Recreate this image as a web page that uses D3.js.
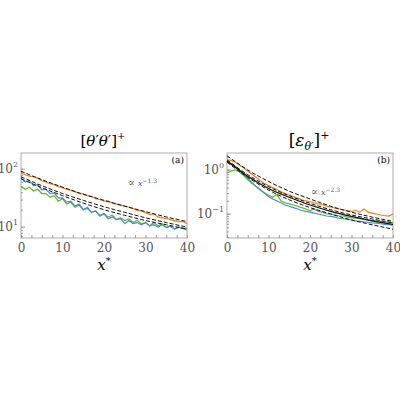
<!DOCTYPE html>
<html lang="en">
<head>
<meta charset="UTF-8">
<script src="https://d3js.org/d3.v7.min.js"></script>
<style>body{margin:0;background:#fff}</style>
</head>
<body>
<svg id="svg" width="400" height="400"></svg>
<script>
const xs=d3.range(0,41);
const xsDash=[0,5,10,15,20,25,30,35,40];
const xTicks=[0,10,20,30,40];
// panel (a)
const orangeA=[85,80,76,74,70,63,60,56,54,50,48,45,43,41,38,37,35,34,31,30,28,28,26,25,24,23,22,21,19.5,19,18,16.5,17,15,14.5,14,13.5,13,12.5,12.5,11.5];
const blueA=[70,60,64,52,54,44,45,38,39,32,32,27,28,23,25,20,22,18,19,15.5,17,14,15,13.5,14,11.5,13,11.5,12,11,12,10.5,11,10,11,9.8,10.5,9.3,10,9.5,9.5];
const greenA=[50,45,49,42,45,38,38,33,35,28,31,25,27,22,24,20,21,18,19,16,17,15,16,13.5,14.5,13,14,12,13,11.5,12,10.5,12,10.5,11.5,9.8,10.5,9.3,10,9.5,9];
const dashA=[[92,66,49,37,29,23,18.5,15,12.5],[74,52,38,29,22.5,18,14.5,12,10],[68,48,35,26,20,16,13,11,9.2]];
// panel (b)
const orangeB=[1.7,1.65,1.5,1.3,1.12,0.95,0.8,0.68,0.58,0.5,0.44,0.4,0.36,0.32,0.29,0.27,0.25,0.23,0.21,0.2,0.19,0.18,0.17,0.165,0.15,0.145,0.135,0.13,0.125,0.12,0.115,0.12,0.11,0.13,0.11,0.105,0.1,0.095,0.092,0.09,0.1];
const blueB=[1.5,1.4,1.2,1.0,0.8,0.65,0.52,0.42,0.35,0.3,0.25,0.22,0.2,0.18,0.16,0.15,0.14,0.13,0.12,0.115,0.11,0.105,0.1,0.095,0.09,0.088,0.085,0.08,0.078,0.075,0.073,0.07,0.068,0.066,0.065,0.063,0.062,0.06,0.058,0.057,0.056];
const greenB=[0.85,0.95,1.0,0.9,0.75,0.6,0.5,0.42,0.36,0.3,0.27,0.24,0.28,0.2,0.18,0.17,0.16,0.15,0.14,0.13,0.12,0.13,0.115,0.11,0.1,0.1,0.095,0.09,0.09,0.085,0.082,0.08,0.078,0.075,0.073,0.07,0.07,0.068,0.066,0.065,0.064];
const dashB=[[2.1,1.0,0.55,0.33,0.22,0.15,0.11,0.085,0.068],[1.7,0.78,0.42,0.26,0.175,0.125,0.095,0.077,0.063],[1.5,0.68,0.35,0.21,0.14,0.1,0.073,0.057,0.045]];
const solidB=[1.6,0.72,0.38,0.24,0.16,0.115,0.088,0.07,0.058];

const colors={orange:"#f07f1e",blue:"#4a8bd0",green:"#5cb531"};
const svg=d3.select("#svg");
const serif="'DejaVu Serif','Liberation Serif',serif";

function panel(o){
  const x=d3.scaleLinear().domain([0,40]).range([o.x0,o.x1]);
  const y=d3.scaleLog().domain(o.ydom).range([238,153]);
  const g=svg.append("g");
  g.append("rect").attr("x",o.x0).attr("y",153).attr("width",o.x1-o.x0).attr("height",85)
    .attr("fill","none").attr("stroke","#999").attr("stroke-width",0.8);
  g.append("g").attr("transform","translate(0,238)")
    .call(d3.axisBottom(x).tickValues(d3.range(0,41,2.5)).tickSizeInner(-3).tickSizeOuter(0).tickFormat(""))
    .call(a=>a.select(".domain").remove()).call(a=>a.selectAll("line").attr("stroke","#999"));
  g.append("g").attr("transform","translate(0,238)")
    .call(d3.axisBottom(x).tickValues(xTicks).tickSize(0).tickPadding(5))
    .call(a=>a.select(".domain").remove())
    .call(a=>a.selectAll("text").attr("font-family",serif).attr("font-size",12).attr("fill","#555"));
  const minor=[];
  for(let e=-3;e<3;e++)for(let k=1;k<10;k++){const v=k*Math.pow(10,e);if(v>=o.ydom[0]&&v<=o.ydom[1])minor.push(v);}
  g.append("g").attr("transform",`translate(${o.x0},0)`)
    .call(d3.axisLeft(y).tickValues(minor).tickSizeInner(-2).tickSizeOuter(0).tickFormat(""))
    .call(a=>a.select(".domain").remove()).call(a=>a.selectAll("line").attr("stroke","#999"));
  o.major.forEach(m=>{
    g.append("line").attr("x1",o.x0).attr("x2",o.x0+4).attr("y1",y(m[0])).attr("y2",y(m[0])).attr("stroke","#999");
    const t=g.append("text").attr("x",o.x0-3).attr("y",y(m[0])+4).attr("text-anchor","end")
      .attr("font-family",serif).attr("font-size",12).attr("fill","#555").text("10");
    t.append("tspan").attr("dy",-6).attr("font-size",8).text(m[1]);
  });
  const line=d3.line().x((d,i)=>x(xs[i])).y(d=>y(d));
  const lineD=d3.line().curve(d3.curveMonotoneX).x((d,i)=>x(xsDash[i])).y(d=>y(d));
  [[o.green,colors.green],[o.blue,colors.blue],[o.orange,colors.orange]].forEach(s=>{
    g.append("path").attr("d",line(s[0])).attr("fill","none").attr("stroke",s[1]).attr("stroke-width",1.2);
  });
  if(o.solid) g.append("path").attr("d",lineD(o.solid)).attr("fill","none").attr("stroke","#111").attr("stroke-width",1.2);
  o.dash.forEach(d=>g.append("path").attr("d",lineD(d)).attr("fill","none").attr("stroke","#111").attr("stroke-width",1).attr("stroke-dasharray","4,2"));
  g.append("text").attr("x",o.x1-3).attr("y",163).attr("text-anchor","end").attr("font-family",serif).attr("font-size",9).text(o.label);
  const ann=g.append("text").attr("x",o.ann[0]).attr("y",o.ann[1]).attr("font-family",serif).attr("font-size",10).attr("fill","#555").text("∝ ");
  ann.append("tspan").attr("font-style","italic").attr("font-size",8).text("x");
  ann.append("tspan").attr("dy",-3).attr("font-size",6).text(o.annExp);
  const xl=g.append("text").attr("x",(o.x0+o.x1)/2).attr("y",270).attr("text-anchor","middle").attr("font-family",serif).attr("font-size",15).attr("font-style","italic").text("x");
  xl.append("tspan").attr("dy",-6).attr("font-size",10).attr("font-style","normal").text("*");
  return g;
}

const ga=panel({x0:21,x1:187,ydom:[6.5,190],major:[[10,"1"],[100,"2"]],orange:orangeA,blue:blueA,green:greenA,dash:dashA,label:"(a)",ann:[128,186],annExp:"−1.3"});
ga.append("text").attr("x",103).attr("y",146).attr("text-anchor","middle").attr("font-family",serif).attr("font-size",15)
  .html("[<tspan font-style='italic'>θ</tspan>′<tspan font-style='italic'>θ</tspan>′]<tspan dy='-7' font-size='10'>+</tspan>");
const gb=panel({x0:227,x1:393,ydom:[0.0285,2.43],major:[[0.1,"−1"],[1,"0"]],orange:orangeB,blue:blueB,green:greenB,dash:dashB,solid:solidB,label:"(b)",ann:[311,195],annExp:"−2.3"});
gb.append("text").attr("x",309).attr("y",146).attr("text-anchor","middle").attr("font-family",serif).attr("font-size",17)
  .html("[<tspan font-style='italic'>ε</tspan><tspan dy='4' font-size='11' font-style='italic'>θ′</tspan><tspan dy='-4'>]</tspan><tspan dy='-7' font-size='11'>+</tspan>");
</script>
</body>
</html>
